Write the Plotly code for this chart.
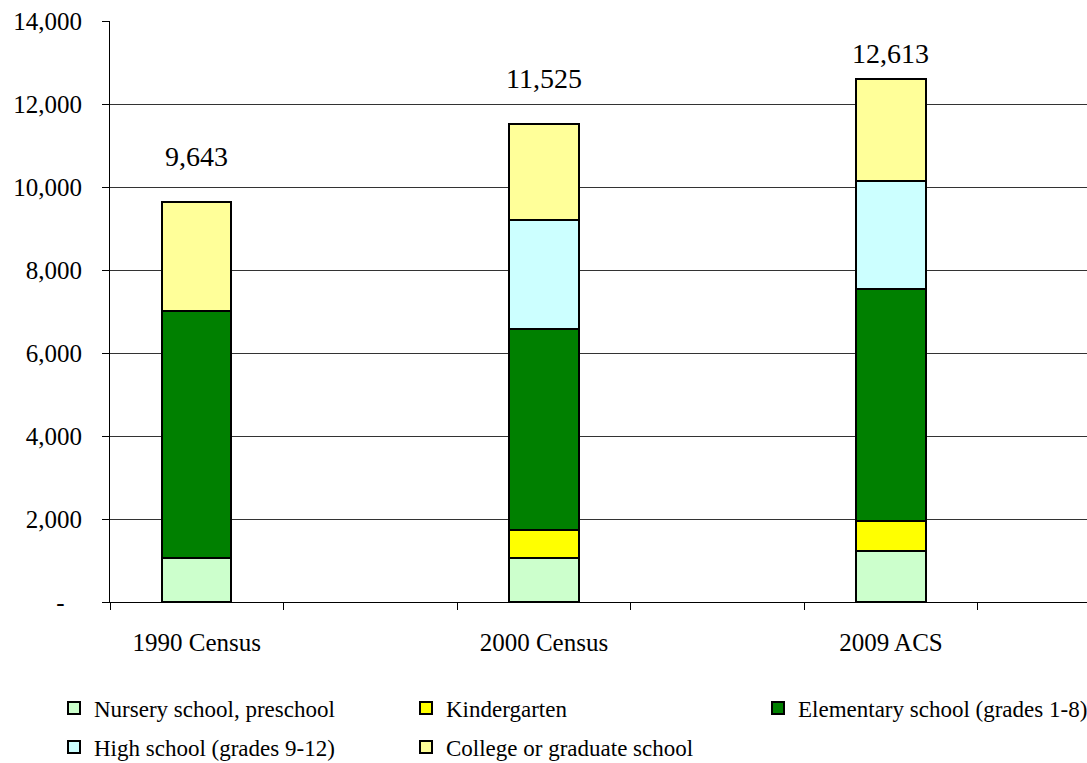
import plotly.graph_objects as go

# School enrollment by level
categories = ["1990 Census", "2000 Census", "2009 ACS"]
nursery = [1070, 1050, 1235]
kindergarten = [0, 690, 705]
elementary = [5940, 4840, 5600]
high_school = [0, 2630, 2600]
college = [2633, 2315, 2473]

series = [
    ("Nursery school, preschool", nursery, "#CCFFCC"),
    ("Kindergarten", kindergarten, "#FFFF00"),
    ("Elementary school (grades 1-8)", elementary, "#008000"),
    ("High school (grades 9-12)", high_school, "#CCFFFF"),
    ("College or graduate school", college, "#FFFF99"),
]

y_ticks = [0, 2000, 4000, 6000, 8000, 10000, 12000, 14000]
y_labels = ["-\u00a0\u00a0\u2009", "2,000", "4,000", "6,000", "8,000", "10,000", "12,000", "14,000"]

# each census period sits in every other slot along the axis
x_pos = [2 * i for i in range(len(categories))]
totals = [sum(v) for v in zip(nursery, kindergarten, elementary, high_school, college)]

SERIF = "Times New Roman, Liberation Serif, DejaVu Serif, Noto Serif, serif"
X_RANGE = [-0.5, 5.7]
SLOT_PX = 173.6
M_L, M_R, M_T, M_B = 110, 8, 18, 161
PLOT_W = round((X_RANGE[1] - X_RANGE[0]) * SLOT_PX)
W, H = M_L + PLOT_W + M_R, 763
PLOT_H = H - M_T - M_B
Y_MAX = 14000

fig = go.Figure()
for i, (name, vals, color) in enumerate(series):
    fig.add_trace(go.Bar(
        x=x_pos, y=vals, name=name, width=0.4,
        legend="legend" if i < 3 else "legend2",
        marker=dict(color=color, line=dict(color="black", width=2)),
    ))

# totals above each stack, kept inside the plot area near the top
for xp, tot in zip(x_pos, totals):
    room = (Y_MAX - tot) / Y_MAX * PLOT_H - 33
    fig.add_annotation(
        x=xp, y=tot, text=f"{tot:,}", showarrow=False,
        yanchor="middle", yshift=min(45, room),
        font=dict(family=SERIF, size=28, color="black"),
    )

legend_common = dict(
    orientation="h", traceorder="normal",
    xref="container", yref="container",
    x=54 / W, xanchor="left", yanchor="middle",
    entrywidthmode="pixels", entrywidth=307,
    font=dict(family=SERIF, size=23, color="black"),
    itemwidth=30, bgcolor="rgba(0,0,0,0)",
)

fig.update_layout(
    width=W, height=H,
    margin=dict(l=M_L, r=M_R, t=M_T, b=M_B),
    barmode="stack",
    plot_bgcolor="white", paper_bgcolor="white",
    font=dict(family=SERIF, color="black"),
    showlegend=True,
    legend=dict(legend_common, y=1 - 708 / H),
    legend2=dict(legend_common, y=1 - 747 / H),
    xaxis=dict(
        range=X_RANGE,
        tickmode="array", tickvals=x_pos, ticktext=categories,
        ticks="", ticklabelstandoff=18,
        tickfont=dict(family=SERIF, size=25, color="black"),
        showline=True, linecolor="black", linewidth=1,
        showgrid=False, zeroline=False,
        minor=dict(ticks="outside", tick0=-0.5, dtick=1, ticklen=7,
                   tickcolor="black", tickwidth=1, showgrid=False),
    ),
    yaxis=dict(
        range=[0, Y_MAX],
        tickmode="array", tickvals=y_ticks, ticktext=y_labels,
        ticks="outside", ticklen=7, tickcolor="black",
        ticklabelstandoff=15,
        tickfont=dict(family=SERIF, size=25, color="black"),
        showline=True, linecolor="black", linewidth=1,
        showgrid=True, gridcolor="#333333", gridwidth=1,
        zeroline=False,
    ),
)

fig.write_html(
    "out.html",
    post_script="document.body.style.margin='0';"
                "document.body.style.overflow='hidden';"
                "document.documentElement.style.overflow='hidden';",
)
